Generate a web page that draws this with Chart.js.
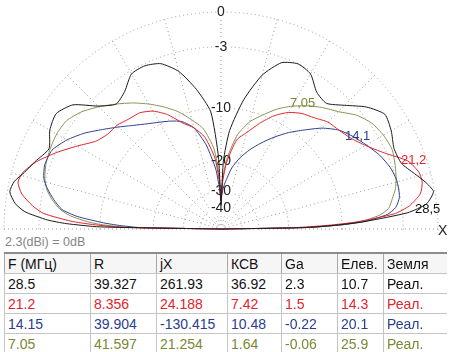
<!DOCTYPE html>
<html>
<head>
<meta charset="utf-8">
<script src="https://cdn.jsdelivr.net/npm/chart.js@4.4.1/dist/chart.umd.min.js"></script>
<style>
  body { margin: 0; width: 450px; height: 352px; overflow: hidden; position: relative; background: #fff;
         font-family: "Liberation Sans", Arial, sans-serif; }
  #plot { position: absolute; left: 0; top: 0; width: 450px; height: 230px; overflow: hidden; }
  #pattern { position: absolute; left: -4px; top: 4px; }
  .tag { position: absolute; font-size: 13px; line-height: 13px; white-space: nowrap; }
  #note { position: absolute; left: 5px; top: 235px; font-size: 12.5px; line-height: 14px; color: #858585; }
  #tbl { position: absolute; left: 4px; top: 252px; border-collapse: collapse; table-layout: fixed;
         font-size: 14px; }
  #tbl th, #tbl td { height: 19px; padding: 0 0 0 3px; text-align: left; font-weight: normal; white-space: nowrap;
         overflow: hidden; border-left: 1px solid #c4c4c4; border-bottom: 1px solid #c4c4c4; }
  #tbl th { border-top: 2px solid #8c8c8c; background: #f6f6f6; color: #111; border-left-color: #a8a8a8; }
</style>
</head>
<body>
<div id="plot"><canvas id="pattern" width="451" height="451"></canvas></div>
<div class="tag" style="left:290px;top:96px;color:#7b8735">7,05</div>
<div class="tag" style="left:345px;top:129px;color:#2b3d92">14,1</div>
<div class="tag" style="left:401px;top:153px;color:#e3232b">21,2</div>
<div class="tag" style="left:415px;top:202px;color:#111">28,5</div>
<div class="tag" style="left:438px;top:224px;color:#222;font-size:14px">X</div>
<div id="note">2.3(dBi) = 0dB</div>
<table id="tbl"><colgroup></colgroup><thead><tr></tr></thead><tbody></tbody></table>

<script>
// elevation angles (deg) measured from the right horizon
const ELEV = [0, 1, 2, 3, 5, 7, 10, 13, 16, 20, 25, 30, 35, 40, 45, 50, 55, 60, 65, 70, 75, 80, 85, 88,
  90, 92, 95, 100, 105, 110, 115, 120, 125, 130, 135, 140, 145, 150, 155, 160, 164, 167, 170, 173, 175, 177, 178, 179, 180];

// relative gain, dB (0 dB = 2.3 dBi)
const DB_285 = [-99, -16, -10.5, -7, -2.5, -0.8, -0.1, -0.6, -1.3, -2.1, -2.2, -1.7, -1.4, -2.3, -3.7, -4.8, -4.5, -3.3, -3.0, -3.5, -5.3, -8.6, -13.5, -20,
  -38, -19, -10.5, -7.3, -4.9, -3.6, -3.2, -3.3, -4.4, -4.9, -3.8, -2.0, -1.3, -1.6, -2.3, -1.6, -1.0, -0.4, -0.2, -0.8, -1.7, -3.8, -5.8, -10, -99];
const DB_212 = [-99, -19, -12, -8, -3.8, -2.3, -1.2, -0.85, -0.9, -1.5, -3.2, -4.5, -5.4, -5.9, -6.2, -6.9, -7.4, -8.2, -9.5, -11.3, -13.3, -15, -20, -26,
  -35, -26, -19, -14.5, -12.5, -11.2, -9.3, -8.0, -7.3, -7.1, -6.7, -6.6, -6.0, -4.6, -3.1, -1.7, -0.9, -0.7, -1.2, -2.3, -3.4, -6.3, -9, -13.5, -99];
const DB_1415 = [-99, -16, -10, -7, -4.5, -3.6, -3.1, -3.0, -3.0, -3.2, -3.7, -4.4, -5.1, -5.9, -7.2, -8.9, -10.5, -12.3, -14.2, -16.2, -18.5, -21.5, -26.5, -30,
  -34, -29, -22, -16, -12.5, -11, -10.3, -9.7, -9.0, -8.1, -7.0, -5.8, -4.5, -3.4, -2.6, -2.5, -2.8, -3.4, -4.2, -5.2, -7, -10.5, -13, -17, -99];
const DB_705 = [-99, -15, -10, -7.5, -5.3, -4.3, -3.8, -3.3, -3.0, -2.7, -2.4, -2.5, -2.8, -3.5, -4.6, -5.4, -6.3, -7.3, -8.5, -10, -11.5, -14, -19, -25,
  -33, -24, -17, -13, -11.2, -9.5, -8.2, -7.0, -5.9, -4.9, -3.9, -3.0, -2.4, -2.3, -2.4, -2.6, -2.9, -3.3, -4.0, -5.0, -6.2, -8.5, -10.5, -14.5, -99];

const RINGS_DB = [-40, -30, -20, -10, -3, 0];
const SPOKE_STEP = 15;

// table columns
const HEADERS = ['F (МГц)', 'R', 'jX', 'КСВ', 'Ga', 'Елев.', 'Земля'];
const COL_W = [86, 66, 71, 54, 56, 46, 63];
const FREQ = ['28.5', '21.2', '14.15', '7.05'];
const RES = ['39.327', '8.356', '39.904', '41.597'];
const REACT = ['261.93', '24.188', '-130.415', '21.254'];
const SWR = ['36.92', '7.42', '10.48', '1.64'];
const GAIN = ['2.3', '1.5', '-0.22', '-0.06'];
const ELEV_MAX = ['10.7', '14.3', '20.1', '25.9'];
const GROUND = ['Реал.', 'Реал.', 'Реал.', 'Реал.'];
const TEXT_COLORS = ['#111111', '#e3232b', '#2b3d92', '#7b8735'];
const LINE_COLORS = ['#1a1a1a', '#e3232b', '#2d3f8e', '#8b9050'];

// ARRL style log scale: 0.89 per 2 dB
const toR = db => Math.pow(0.89, -db / 2);

// radar has one slot per degree, clockwise from zenith
function toSlots(dbs) {
  const arr = new Array(360).fill(null);
  ELEV.forEach((e, k) => {
    const idx = ((90 - e) % 360 + 360) % 360;
    arr[idx] = toR(dbs[k]);
  });
  return arr;
}

const slots = Array.from({ length: 360 }, (_, i) => i);
const series = [DB_285, DB_212, DB_1415, DB_705];

new Chart(document.getElementById('pattern'), {
  type: 'radar',
  data: {
    labels: slots,
    datasets: series.map((s, i) => ({
      data: toSlots(s),
      borderColor: LINE_COLORS[i],
      borderWidth: 1,
      pointRadius: 0,
      fill: false,
      spanGaps: true,
      tension: 0.2
    }))
  },
  options: {
    responsive: false,
    animation: false,
    devicePixelRatio: 1,
    layout: { padding: 0 },
    plugins: { legend: { display: false }, tooltip: { enabled: false } },
    scales: {
      r: {
        min: 0,
        max: 1,
        startAngle: 0,
        angleLines: {
          color: '#9a9a9a',
          lineWidth: ctx => (ctx.index % SPOKE_STEP === 0 ? 1 : 0),
          borderDash: [1, 3]
        },
        grid: { circular: true, color: '#9a9a9a', lineWidth: 1 },
        border: { dash: [1, 3] },
        pointLabels: { display: false },
        ticks: {
          color: '#222',
          font: { size: 14, family: '"Liberation Sans", Arial, sans-serif' },
          backdropColor: '#fff',
          backdropPadding: 1,
          callback: (v, i) => (i === 0 ? '' : String(RINGS_DB[i - 1]))
        },
        afterBuildTicks: scale => {
          scale.ticks = [{ value: 0 }].concat(RINGS_DB.map(d => ({ value: toR(d) })));
        }
      }
    }
  }
});

// table
const tbl = document.getElementById('tbl');
const cg = tbl.querySelector('colgroup');
COL_W.forEach(w => {
  const c = document.createElement('col');
  c.style.width = w + 'px';
  cg.appendChild(c);
});
tbl.style.width = COL_W.reduce((a, b) => a + b, 0) + 'px';
const head = tbl.querySelector('thead tr');
HEADERS.forEach(h => {
  const th = document.createElement('th');
  th.textContent = h;
  head.appendChild(th);
});
const body = tbl.querySelector('tbody');
FREQ.forEach((f, i) => {
  const tr = document.createElement('tr');
  tr.style.color = TEXT_COLORS[i];
  [f, RES[i], REACT[i], SWR[i], GAIN[i], ELEV_MAX[i], GROUND[i]].forEach(v => {
    const td = document.createElement('td');
    td.textContent = v;
    tr.appendChild(td);
  });
  body.appendChild(tr);
});
</script>
</body>
</html>
